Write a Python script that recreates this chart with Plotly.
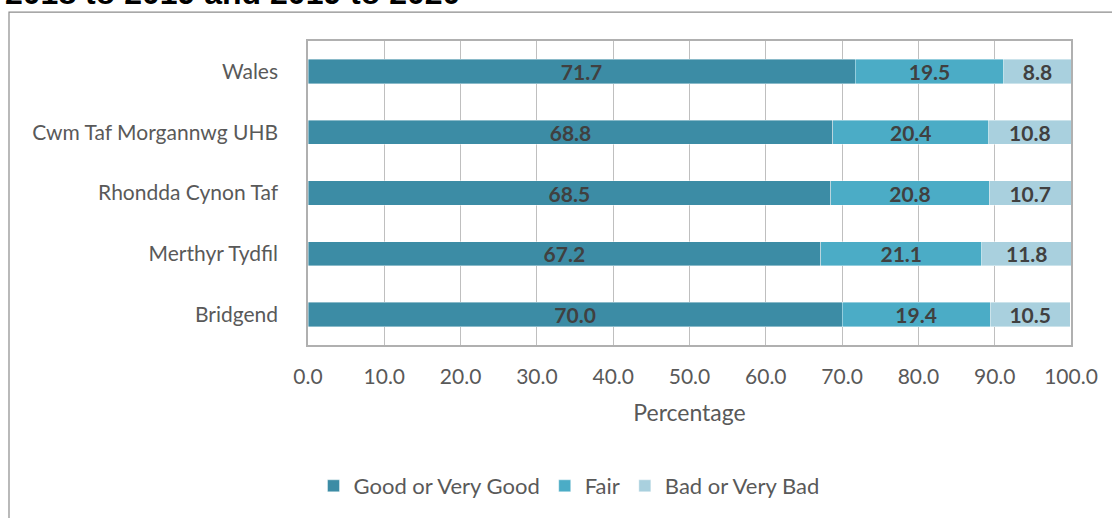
import plotly.graph_objects as go

categories = ["Wales", "Cwm Taf Morgannwg UHB", "Rhondda Cynon Taf", "Merthyr Tydfil", "Bridgend"]
good = [71.7, 68.8, 68.5, 67.2, 70.0]
fair = [19.5, 20.4, 20.8, 21.1, 19.4]
bad = [8.8, 10.8, 10.7, 11.8, 10.5]
series_names = ["Good or Very Good", "Fair", "Bad or Very Bad"]
colors = ["#3C8CA5", "#4BACC6", "#A9D0DE"]
x_ticks = [0, 10, 20, 30, 40, 50, 60, 70, 80, 90, 100]
title_text = "2018 to 2019 and 2019 to 2020"

FONT = "Lato, Carlito, Calibri, sans-serif"
W, H = 1112, 518
L, R, T, B = 308, 1071, 41, 346

fig = go.Figure()
for name, vals, col in zip(series_names, [good, fair, bad], colors):
    fig.add_trace(go.Bar(
        y=categories, x=vals, name=name, orientation="h",
        marker=dict(color=col, line=dict(color="rgba(255,255,255,0.5)", width=0.8)),
        text=[f"<b>{v:.1f}</b>" for v in vals],
        textposition="inside", insidetextanchor="middle",
        textfont=dict(family=FONT, size=21, color="#404040"),
        constraintext="none",
    ))

pw = R - L
ph = B - T

fig.update_layout(
    width=W, height=H, barmode="stack", bargap=0.6,
    paper_bgcolor="white", plot_bgcolor="white",
    margin=dict(l=L, r=W - R, t=T, b=H - B),
    font=dict(family=FONT, color="#595959", size=21),
    showlegend=True,
    legend=dict(orientation="h", x=(569 - L) / pw, xanchor="center",
                y=(B - 486) / ph, yanchor="middle",
                font=dict(family=FONT, size=22, color="#595959"),
                traceorder="normal", itemwidth=30),
    xaxis=dict(range=[0, 100], tickvals=x_ticks,
               ticktext=[f"{v:.1f}" for v in x_ticks],
               showgrid=True, gridcolor="#BFBFBF", gridwidth=1,
               showline=True, linecolor="#B0B0B0", linewidth=1.5, mirror=True,
               zeroline=False, ticks="", ticklabelstandoff=12,
               tickfont=dict(family=FONT, size=21, color="#595959"),
               title=dict(text="Percentage", standoff=18,
                          font=dict(family=FONT, size=23, color="#595959"))),
    yaxis=dict(categoryorder="array", categoryarray=categories[::-1],
               showgrid=False, showline=True, linecolor="#B0B0B0", linewidth=1.5,
               mirror=True, ticks="", ticklabelstandoff=24,
               tickfont=dict(family=FONT, size=21, color="#595959")),
)

# cut-off title at the very top
fig.add_annotation(text=f"<b>{title_text}</b>", xref="paper", yref="paper",
                   x=(3 - L) / pw, y=1 + (T - 13) / ph, xanchor="left", yanchor="bottom",
                   showarrow=False, font=dict(family="Liberation Sans, Arial", size=32, color="black"))

# outer border of the chart area
fig.add_shape(type="rect", xref="paper", yref="paper",
              x0=(9 - L) / pw, x1=(1125 - L) / pw,
              y0=(B - 540) / ph, y1=1 + (T - 12) / ph,
              line=dict(color="#8C8C8C", width=1.2), fillcolor="rgba(0,0,0,0)", layer="below")

fig.write_html("out.html", config={"displayModeBar": False},
               post_script="document.body.style.margin='0';document.body.style.overflow='hidden';")
